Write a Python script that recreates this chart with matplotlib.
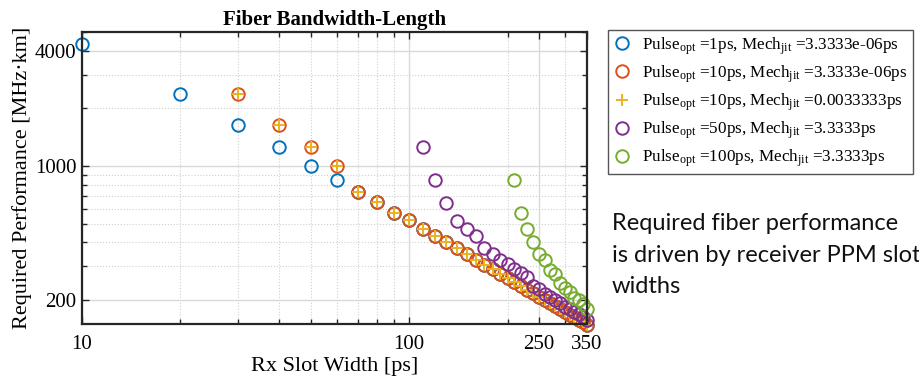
import matplotlib
matplotlib.use('Agg')
import matplotlib.pyplot as plt
import matplotlib.ticker as mticker

# 字体设置：Times 风格衬线体，下标也用同一字体
plt.rcParams['font.family'] = ['Liberation Serif', 'DejaVu Serif']
plt.rcParams['mathtext.fontset'] = 'custom'
plt.rcParams['mathtext.rm'] = 'Liberation Serif'
plt.rcParams['mathtext.it'] = 'Liberation Serif:italic'

# 时隙宽度 [ps] 与所需带宽-长度积 [MHz·km]
slot_p1 = [10, 20, 30, 40, 50, 60, 70, 80, 90, 100, 110, 120, 130, 140, 150,
           160, 170, 180, 190, 200, 210, 220, 230, 240, 250, 260, 270, 280,
           290, 300, 310, 320, 330, 340, 350]
bw_p1 = [4350, 2365, 1633, 1254, 1004, 843, 730, 648, 572, 520, 470, 432, 400,
         372, 346, 325, 306, 290, 274, 261, 248, 236, 226, 217, 208, 200, 193,
         186, 179, 173, 168, 163, 158, 153, 149]

slot_p10 = [30, 40, 50, 60, 70, 80, 90, 100, 110, 120, 130, 140, 150, 160, 170,
            180, 190, 200, 210, 220, 230, 240, 250, 260, 270, 280, 290, 300,
            310, 320, 330, 340, 350]
bw_p10 = [2365, 1633, 1254, 1000, 730, 648, 572, 520, 470, 432, 400, 372, 346,
          325, 306, 290, 274, 261, 248, 236, 226, 217, 208, 200, 193, 186, 179,
          173, 168, 163, 158, 153, 149]
bw_p10_jit = [2365, 1633, 1254, 1000, 730, 648, 572, 520, 470, 432, 400, 372,
              346, 325, 306, 290, 274, 261, 248, 236, 226, 217, 208, 200, 193,
              186, 179, 173, 168, 163, 158, 153, 149]

slot_p50 = [110, 120, 130, 140, 150, 160, 170, 180, 190, 200, 210, 220, 230,
            240, 250, 260, 270, 280, 290, 300, 310, 320, 330, 340, 350]
bw_p50 = [1250, 846, 642, 518, 471, 432, 374, 348, 325, 307, 289, 276, 263,
          237, 228, 216, 208, 199, 192, 185, 179, 174, 169, 163, 157]

slot_p100 = [210, 220, 230, 240, 250, 260, 270, 280, 290, 300, 310, 320, 330,
             340, 350]
bw_p100 = [846, 568, 469, 400, 348, 325, 288, 272, 246, 232, 220, 206, 200,
           190, 180]

labels = [
    r'Pulse$_{\mathrm{opt}}$ =1ps, Mech$_{\mathrm{jit}}$ =3.3333e-06ps',
    r'Pulse$_{\mathrm{opt}}$ =10ps, Mech$_{\mathrm{jit}}$ =3.3333e-06ps',
    r'Pulse$_{\mathrm{opt}}$ =10ps, Mech$_{\mathrm{jit}}$ =0.0033333ps',
    r'Pulse$_{\mathrm{opt}}$ =50ps, Mech$_{\mathrm{jit}}$ =3.3333ps',
    r'Pulse$_{\mathrm{opt}}$ =100ps, Mech$_{\mathrm{jit}}$ =3.3333ps',
]
x_ticks = [10, 100, 250, 350]
y_ticks = [200, 1000, 4000]

# MATLAB 默认配色
c_blue, c_orange, c_yellow, c_purple, c_green = (
    '#0072BD', '#D95319', '#EDB120', '#7E2F8E', '#77AC30')

fig = plt.figure(figsize=(9.2, 3.79), dpi=100)
ax = fig.add_axes([82 / 920, 1 - 324 / 379, 505 / 920, 292 / 379])

mk = dict(linestyle='none', markersize=9, markeredgewidth=1.4, clip_on=False)
ax.plot(slot_p1, bw_p1, 'o', mfc='none', mec=c_blue, label=labels[0], **mk)
ax.plot(slot_p10, bw_p10, 'o', mfc='none', mec=c_orange, label=labels[1], **mk)
ax.plot(slot_p10, bw_p10_jit, '+', color=c_yellow, label=labels[2], **mk)
ax.plot(slot_p50, bw_p50, 'o', mfc='none', mec=c_purple, label=labels[3], **mk)
ax.plot(slot_p100, bw_p100, 'o', mfc='none', mec=c_green, label=labels[4], **mk)

ax.set_xscale('log')
ax.set_yscale('log')
ax.set_xlim(10, 350)
ax.set_ylim(150, 5000)
ax.xaxis.set_major_locator(mticker.FixedLocator(x_ticks))
ax.xaxis.set_major_formatter(mticker.FixedFormatter([str(v) for v in x_ticks]))
ax.xaxis.set_minor_locator(mticker.LogLocator(base=10, subs=range(2, 10)))
ax.xaxis.set_minor_formatter(mticker.NullFormatter())
ax.yaxis.set_major_locator(mticker.FixedLocator(y_ticks))
ax.yaxis.set_major_formatter(mticker.FixedFormatter([str(v) for v in y_ticks]))
ax.yaxis.set_minor_locator(mticker.LogLocator(base=10, subs=range(2, 10)))
ax.yaxis.set_minor_formatter(mticker.NullFormatter())

ax.grid(True, which='major', color='#d9d9d9', linewidth=1.0, linestyle='-')
ax.grid(True, which='minor', color='#cfcfcf', linewidth=0.8, linestyle=':')
ax.set_axisbelow(True)

for s in ax.spines.values():
    s.set_linewidth(1.6)
    s.set_color('#262626')
ax.tick_params(which='both', direction='in', top=True, right=True,
               color='#262626', width=1.0, labelsize=15)
ax.tick_params(which='major', length=5)
ax.tick_params(which='minor', length=3.5)
ax.tick_params(axis='x', pad=8)
ax.tick_params(axis='y', pad=4)

ax.set_title('Fiber Bandwidth-Length', fontsize=15, fontweight='bold', pad=5)
ax.set_xlabel('Rx Slot Width [ps]', fontsize=16, labelpad=2)
ax.set_ylabel('Required Performance [MHz·km]', fontsize=16, labelpad=2)

leg = ax.legend(loc='upper left', bbox_to_anchor=(608 / 920, 1 - 30 / 379),
                bbox_transform=fig.transFigure, borderaxespad=0,
                fontsize=12.3, frameon=True, fancybox=False, framealpha=1,
                edgecolor='#555555', numpoints=1, handlelength=1.0,
                handletextpad=0.7, labelspacing=0.38, borderpad=0.3)
leg.get_frame().set_linewidth(1.0)

# 右侧说明文字
note_lines = ['Required fiber performance',
              'is driven by receiver PPM slot',
              'widths']
for i, line in enumerate(note_lines):
    fig.text(612 / 920, 1 - (230 + 31.5 * i) / 379, line,
             family=['Lato', 'DejaVu Sans'], fontsize=17,
             va='baseline', ha='left', color='#111111')

fig.savefig('out.png', dpi=100)
